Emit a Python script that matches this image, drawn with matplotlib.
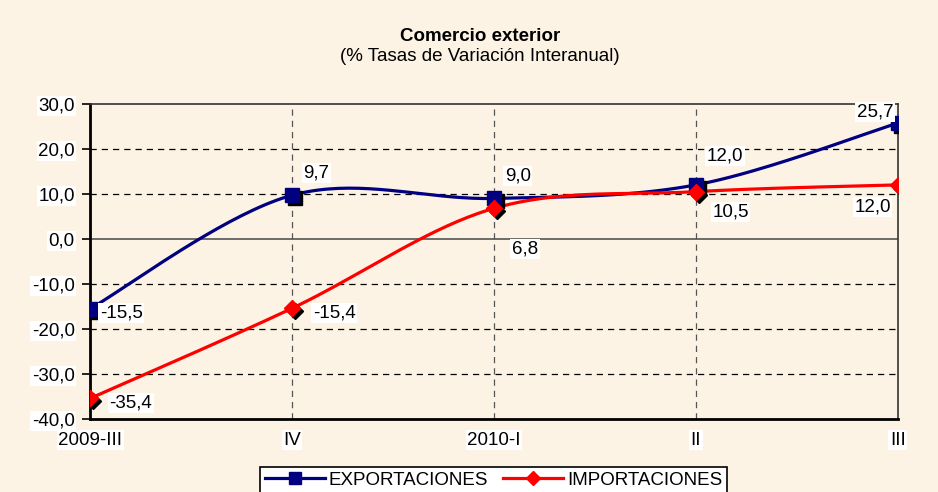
import numpy as np
import matplotlib
matplotlib.use('Agg')
from matplotlib import pyplot as plt
from matplotlib import transforms

plt.rcParams['font.family'] = ['Liberation Sans', 'DejaVu Sans']

quarters = ['2009-III', 'IV', '2010-I', 'II', 'III']
exportaciones = [-15.5, 9.7, 9.0, 12.0, 25.7]
importaciones = [-35.4, -15.4, 6.8, 10.5, 12.0]

exp_offsets = [(7, -3), (8, 16), (8, 16), (8, 21), (-3, 8)]
imp_offsets = [(14, -3), (15, -3), (13, -29), (12, -15), (-5, -16)]
exp_align = ['left', 'left', 'left', 'left', 'right']
imp_align = ['left', 'left', 'left', 'left', 'right']

BG = '#FCF3E4'
FS = 13.5


def smooth(xs, ys, n=40):
    """Excel-like smoothing: Catmull-Rom through the points."""
    pts = np.column_stack([xs, ys]).astype(float)
    ext = np.vstack([pts[0], pts, pts[-1]])
    out = []
    for i in range(len(pts) - 1):
        p0, p1, p2, p3 = ext[i], ext[i + 1], ext[i + 2], ext[i + 3]
        m1 = (p2 - p0) / 2.0
        m2 = (p3 - p1) / 2.0
        t = np.linspace(0, 1, n)[:, None]
        h00 = 2 * t**3 - 3 * t**2 + 1
        h10 = t**3 - 2 * t**2 + t
        h01 = -2 * t**3 + 3 * t**2
        h11 = t**3 - t**2
        out.append(h00 * p1 + h10 * m1 + h01 * p2 + h11 * m2)
    c = np.vstack(out)
    return c[:, 0], c[:, 1]


fig = plt.figure(figsize=(9.38, 4.92), dpi=100, facecolor=BG)
ax = fig.add_axes([0.096, 0.148, 0.861, 0.641], facecolor=BG)

x = np.arange(len(quarters))

# grid
for yv in [-30, -20, -10, 10, 20]:
    ax.axhline(yv, color='black', lw=0.9, ls=(0, (5, 4)), zorder=1)
for xv in x[1:-1]:
    ax.axvline(xv, color='#555555', lw=0.9, ls=(0, (5, 4)), zorder=1)
ax.axhline(0, color='#555555', lw=1.2, zorder=1)

bbox = dict(boxstyle='square,pad=0.08', fc='white', ec='none')

shadow = transforms.offset_copy(ax.transData, fig=fig, x=3, y=-3, units='dots')

sx, sy = smooth(x, exportaciones)
ax.plot(sx, sy, color='#000080', lw=2.3, zorder=3, solid_capstyle='round')
ax.plot(x, exportaciones, ls='none', marker='s', ms=10, color='black', transform=shadow, zorder=4)
ax.plot(x, exportaciones, ls='none', marker='s', ms=10, color='#000080', zorder=5)

sx, sy = smooth(x, importaciones)
ax.plot(sx, sy, color='#FF0000', lw=2.3, zorder=3, solid_capstyle='round')
ax.plot(x, importaciones, ls='none', marker='D', ms=8, color='black', transform=shadow, zorder=4)
ax.plot(x, importaciones, ls='none', marker='D', ms=8, color='#FF0000', zorder=5)

# legend proxies
ax.plot([], [], color='#000080', lw=2.3, marker='s', ms=9, label='EXPORTACIONES')
ax.plot([], [], color='#FF0000', lw=2.3, marker='D', ms=7, label='IMPORTACIONES')

for xi, v, off, ha in zip(x, exportaciones, exp_offsets, exp_align):
    ax.annotate(f'{v:.1f}'.replace('.', ','), (xi, v), xytext=off, textcoords='offset points',
                ha=ha, va='center', fontsize=FS, bbox=bbox, zorder=6)
for xi, v, off, ha in zip(x, importaciones, imp_offsets, imp_align):
    ax.annotate(f'{v:.1f}'.replace('.', ','), (xi, v), xytext=off, textcoords='offset points',
                ha=ha, va='center', fontsize=FS, bbox=bbox, zorder=6)

ax.set_xlim(0, len(quarters) - 1)
ax.set_ylim(-40, 30)
ax.set_yticks(np.arange(-40, 31, 10))
ax.set_yticklabels([f'{v:.1f}'.replace('.', ',') for v in np.arange(-40, 31, 10)])
ax.set_xticks(x)
ax.set_xticklabels(quarters)
ax.tick_params(axis='y', direction='out', length=6, width=1.2, labelsize=FS, pad=5)
ax.tick_params(axis='x', direction='out', length=0, labelsize=FS, pad=9)
for lbl in ax.get_xticklabels() + ax.get_yticklabels():
    lbl.set_bbox(bbox)

for side in ['left', 'bottom']:
    ax.spines[side].set_linewidth(2)
for side in ['top', 'right']:
    ax.spines[side].set_linewidth(1.2)
    ax.spines[side].set_color('#333333')

fig.text(0.512, 0.925, 'Comercio exterior', ha='center', va='center', fontsize=FS, fontweight='bold')
fig.text(0.512, 0.885, '(% Tasas de Variación Interanual)', ha='center', va='center', fontsize=FS)

leg = fig.legend(loc='upper center', bbox_to_anchor=(0.526, 0.051), ncol=2, fontsize=FS,
                 frameon=True, fancybox=False, edgecolor='black', facecolor='white',
                 handlelength=3.2, columnspacing=0.8, borderpad=0.25, handletextpad=0.2,
                 borderaxespad=0)
leg.get_frame().set_linewidth(1.2)
leg.get_frame().set_alpha(1)

plt.savefig('out.png', dpi=100, facecolor=BG)
plt.close(fig)
